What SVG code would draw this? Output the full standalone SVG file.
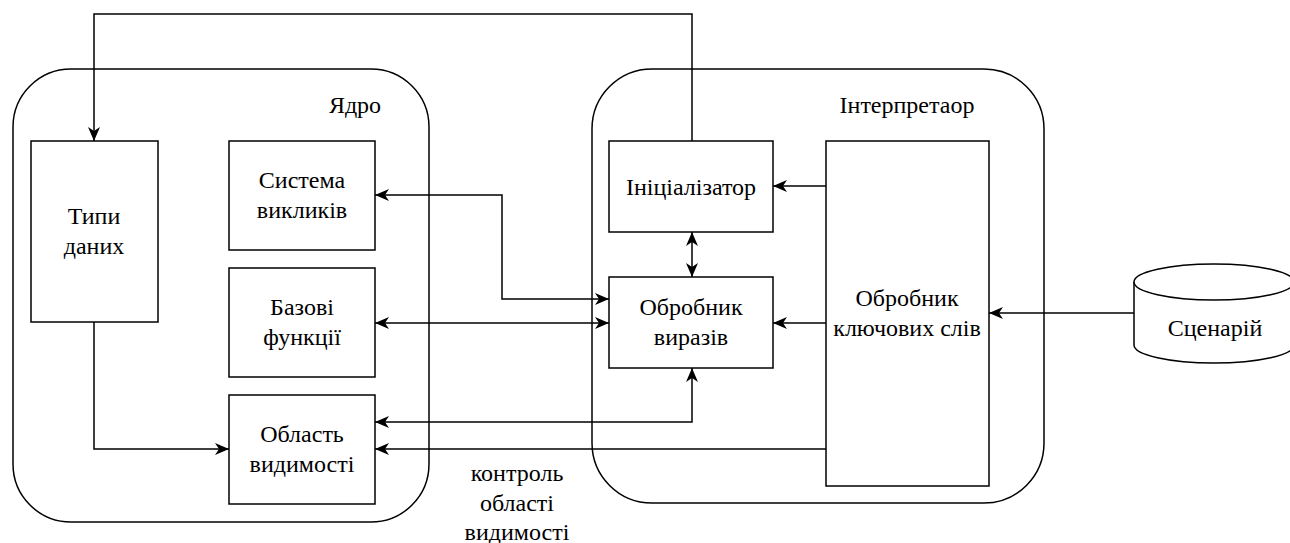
<svg xmlns="http://www.w3.org/2000/svg" width="1290" height="543" viewBox="0 0 1290 543">
<style>
.box{fill:#fff;stroke:#000;stroke-width:1.5}
.cont{fill:#fff;stroke:#000;stroke-width:1.5}
.conn{fill:none;stroke:#000;stroke-width:1.5}
.t{font-size:24px;fill:#000;text-anchor:middle}
</style>
<defs>
<marker id="arr" viewBox="0 0 14 12" refX="14" refY="6" markerWidth="14" markerHeight="12" markerUnits="userSpaceOnUse" orient="auto-start-reverse">
<path d="M0,0 L14,6 L0,12 L4,6 Z" fill="#000"/>
</marker>
</defs>
<rect width="1290" height="543" fill="#fff"/>
<g font-family="Liberation Serif, Times New Roman, serif">
<g id="core">
<rect class="cont" x="13" y="69" width="416" height="453" rx="58" ry="58"/>
<text class="t" x="355" y="113">Ядро</text>
</g>
<g id="interpreter">
<rect class="cont" x="592" y="69" width="452" height="434" rx="60" ry="60"/>
<text class="t" x="907" y="113">Інтерпретаор</text>
</g>
<g id="connectors">
<path class="conn" d="M692,141 L692,14 L94,14 L94,141" marker-end="url(#arr)"/>
<path class="conn" d="M375,195 L502,195 L502,299 L609,299" marker-start="url(#arr)" marker-end="url(#arr)"/>
<path class="conn" d="M375,323 L609,323" marker-start="url(#arr)" marker-end="url(#arr)"/>
<path class="conn" d="M94,322 L94,449 L229,449" marker-end="url(#arr)"/>
<path class="conn" d="M375,422 L692,422 L692,368" marker-start="url(#arr)" marker-end="url(#arr)"/>
<path class="conn" d="M826,449 L375,449" marker-end="url(#arr)"/>
<path class="conn" d="M826,186 L773,186" marker-end="url(#arr)"/>
<path class="conn" d="M826,323 L773,323" marker-end="url(#arr)"/>
<path class="conn" d="M692,232 L692,277" marker-start="url(#arr)" marker-end="url(#arr)"/>
<path class="conn" d="M1134,313 L989,313" marker-end="url(#arr)"/>
<text class="t" x="517" y="481">контроль</text>
<text class="t" x="517" y="511">області</text>
<text class="t" x="517" y="540">видимості</text>
</g>
<g id="types">
<rect class="box" x="31" y="141" width="127" height="181"/>
<text class="t" x="94" y="224">Типи</text>
<text class="t" x="94" y="254">даних</text>
</g>
<g id="calls">
<rect class="box" x="229" y="141" width="146" height="109"/>
<text class="t" x="302" y="188">Система</text>
<text class="t" x="302" y="218">викликів</text>
</g>
<g id="basefuncs">
<rect class="box" x="229" y="268" width="146" height="109"/>
<text class="t" x="302" y="315">Базові</text>
<text class="t" x="302" y="345">функції</text>
</g>
<g id="scope">
<rect class="box" x="229" y="395" width="146" height="109"/>
<text class="t" x="302" y="442">Область</text>
<text class="t" x="302" y="472">видимості</text>
</g>
<g id="init">
<rect class="box" x="609" y="141" width="164" height="91"/>
<text class="t" x="691" y="195">Ініціалізатор</text>
</g>
<g id="exprs">
<rect class="box" x="609" y="277" width="164" height="91"/>
<text class="t" x="691" y="315">Обробник</text>
<text class="t" x="691" y="345">виразів</text>
</g>
<g id="keywords">
<rect class="box" x="826" y="141" width="163" height="345"/>
<text class="t" x="907" y="306">Обробник</text>
<text class="t" x="907" y="336">ключових слів</text>
</g>
<g id="script">
<path class="box" d="M1134,282 L1134,345 A80,18 0 0 0 1294,345 L1294,282"/>
<ellipse class="box" cx="1214" cy="282" rx="80" ry="18"/>
<text class="t" x="1215" y="336">Сценарій</text>
</g>
</g>
</svg>
